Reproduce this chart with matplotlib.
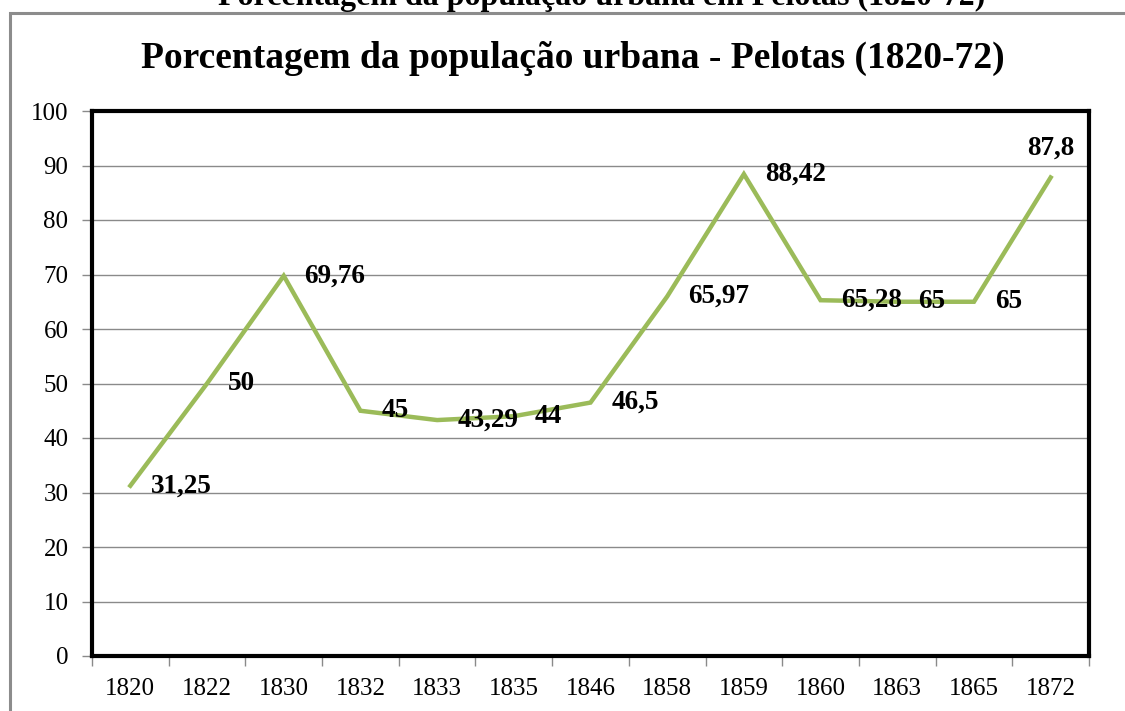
import matplotlib
matplotlib.use("Agg")
import matplotlib.pyplot as plt
from matplotlib.patches import Rectangle

years = ["1820", "1822", "1830", "1832", "1833", "1835", "1846",
         "1858", "1859", "1860", "1863", "1865", "1872"]
values = [31.25, 50, 69.76, 45, 43.29, 44, 46.5, 65.97, 88.42, 65.28, 65, 65, 87.8]
labels = ["31,25", "50", "69,76", "45", "43,29", "44", "46,5",
          "65,97", "88,42", "65,28", "65", "65", "87,8"]
title = "Porcentagem da população urbana - Pelotas (1820-72)"
top_title = "Porcentagem da população urbana em Pelotas (1820-72)"

plt.rcParams['font.family'] = ['Liberation Serif', 'DejaVu Serif']

W, H = 1125, 711
fig = plt.figure(figsize=(W / 100, H / 100), dpi=100)
fig.patch.set_facecolor("white")

# outer chart frame (cut at right and bottom)
fig.patches.append(Rectangle((10 / W, -0.05), 1.2, 1 - 13 / H + 0.05,
                             transform=fig.transFigure, fill=False,
                             edgecolor="#8c8c8c", linewidth=2.2, zorder=0))

# top heading, partially cut by the image's upper edge as in the reference
fig.text(602 / W, 1 - 5 / H, top_title, ha="center", va="baseline",
         fontsize=23, fontweight="bold", color="black")

fig.text(573 / W, 1 - 58 / H, title, ha="center", va="center",
         fontsize=27, fontweight="bold", color="black")

ax = fig.add_axes([92 / W, 1 - 656 / H, (1089 - 92) / W, (656 - 111) / H])
x = list(range(len(years)))
ax.plot(x, values, color="#9bbb59", linewidth=3.2, solid_joinstyle="miter",
        zorder=3)

ax.set_xlim(-0.5, len(years) - 0.5)
ax.set_ylim(0, 100)
ax.set_yticks(range(0, 101, 10))
ax.yaxis.grid(True, color="#8a8a8a", linewidth=1.0)
ax.set_axisbelow(True)

ax.set_xticks(x)
ax.set_xticklabels(years)
ax.set_xticks([i - 0.5 for i in range(len(years) + 1)], minor=True)
ax.tick_params(axis="x", which="major", length=0, pad=16, labelsize=18)
ax.tick_params(axis="x", which="minor", length=7, width=1, color="#8a8a8a",
               direction="out")
ax.tick_params(axis="y", length=7, width=1, color="#8a8a8a", pad=10,
               labelsize=18, direction="out")

for s in ax.spines.values():
    s.set_color("black")
    s.set_linewidth(3.0)

for i, (v, lab) in enumerate(zip(values, labels)):
    if i == len(values) - 1:
        ax.annotate(lab, (i, v), xytext=(0, 12), textcoords="offset points",
                    ha="center", va="bottom", fontsize=19.5, fontweight="bold")
    else:
        ax.annotate(lab, (i, v), xytext=(15, 0), textcoords="offset points",
                    ha="left", va="center", fontsize=19.5, fontweight="bold")

fig.savefig("out.png", dpi=100, facecolor="white")
